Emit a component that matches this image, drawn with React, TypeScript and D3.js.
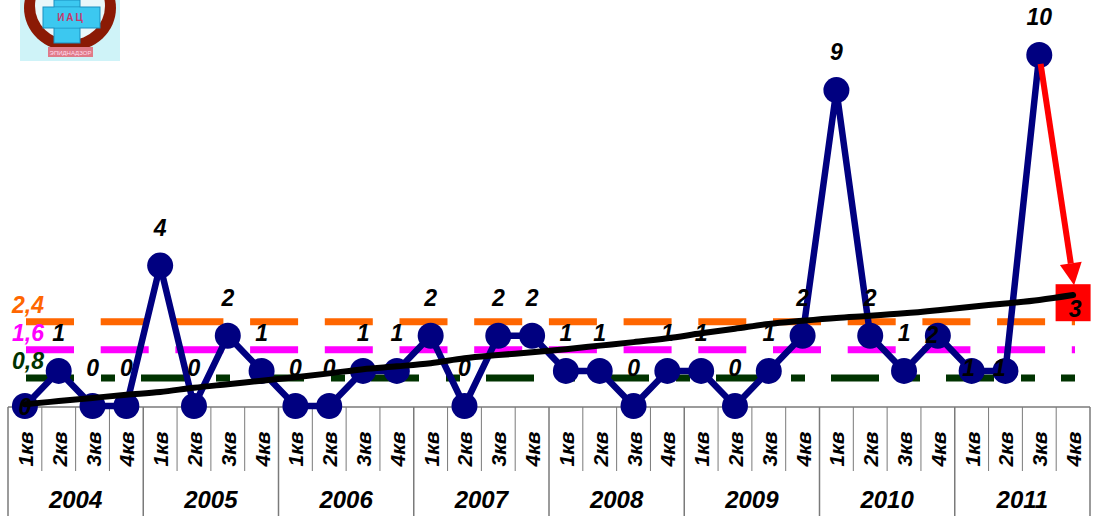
import React from "react";
import * as d3 from "d3";

const years = ["2004", "2005", "2006", "2007", "2008", "2009", "2010", "2011"];
const quarters = ["1кв", "2кв", "3кв", "4кв"];
const values = [0, 1, 0, 0, 4, 0, 2, 1, 0, 0, 1, 1, 2, 0, 2, 2, 1, 1, 0, 1, 1, 0, 1, 2, 9, 2, 1, 2, 1, 1, 10];
const forecast = 3;
const trend = [0.05, 0.14, 0.23, 0.32, 0.4, 0.52, 0.62, 0.72, 0.82, 0.93, 1.05, 1.13, 1.22, 1.36, 1.45, 1.53, 1.62, 1.72, 1.82, 1.93, 2.07, 2.2, 2.34, 2.43, 2.51, 2.57, 2.64, 2.73, 2.83, 2.92, 3.02, 3.16];
const thresholds = [
  { label: "2,4", value: 2.4, color: "#FF6600", dash: "48 26.7" },
  { label: "1,6", value: 1.6, color: "#FF00FF", dash: "48 26.7" },
  { label: "0,8", value: 0.8, color: "#003300", dash: "48 27 14 26" },
];

// label placement tweaks (index -> [dx, dy from point]) ; default above
const labelTweaks: Record<number, [number, number]> = {
  0: [0, 9],
  27: [-6, 7],
  28: [-3, 5],
  29: [-6, 5],
};

const W = 1096;
const H = 516;
const FONT = "'Liberation Sans', Arial, sans-serif";

export default function App() {
  const cats = d3.range(32);
  const x = d3.scaleBand<number>().domain(cats).range([8, 1090]).padding(0);
  const cx = (i: number) => (x(i) as number) + x.bandwidth() / 2;
  const y = d3.scaleLinear().domain([0, 10]).range([406, 55]);

  const linePath = d3.line<number>().x((_, i) => cx(i)).y((v) => y(v))(values) as string;
  const trendPath = d3
    .line<number>()
    .x((_, i) => cx(i))
    .y((v) => y(v))
    .curve(d3.curveMonotoneX)(trend) as string;

  const lastI = values.length - 1;
  const fx = cx(lastI + 1);
  const fy = y(forecast);
  const sqH = 37;
  const sqW = 35;
  const ax0 = cx(lastI);
  const ay0 = y(values[lastI]);
  const tipX = fx + 1;
  const tipY = fy - sqH / 2 + 3;
  const ang = Math.atan2(tipY - ay0, tipX - ax0);
  const headL = 22;
  const headW = 11;
  const baseX = tipX - headL * Math.cos(ang);
  const baseY = tipY - headL * Math.sin(ang);
  const px = -Math.sin(ang);
  const py = Math.cos(ang);
  const startX = ax0 + 9 * Math.cos(ang);
  const startY = ay0 + 9 * Math.sin(ang);

  const tableTop = 407;
  const qBottom = 471;
  const lineX0 = 26;
  const lineX1 = 1075;

  return (
    <svg
      width={W}
      height={H}
      style={{ position: "absolute", left: 0, top: 0, background: "#fff" }}
      fontFamily={FONT}
    >
      {/* logo */}
      <g>
        <rect x={20} y={0} width={100} height={61} fill="#cff3f8" />
        <ellipse cx={70} cy={8} rx={46} ry={43} fill="#8b1a05" />
        <ellipse cx={70} cy={6} rx={35} ry={34} fill="#e9f7fa" />
        <rect x={54} y={0} width={26} height={43} fill="#3cc8f0" stroke="#1a8fc0" strokeWidth={1} />
        <rect x={43} y={7} width={57} height={21} fill="#3cc8f0" stroke="#1a8fc0" strokeWidth={1} />
        <rect x={54.5} y={7.5} width={25} height={20} fill="#3cc8f0" />
        <text x={71} y={21} textAnchor="middle" fontSize={10} fontWeight="bold" fill="#c8386a" letterSpacing={2}>
          ИАЦ
        </text>
        <rect x={48} y={47} width={45} height={10} fill="#e07a88" />
        <text x={70.5} y={55} textAnchor="middle" fontSize={6} fill="#fde">
          ЭПИДНАДЗОР
        </text>
      </g>

      {/* threshold dashed lines */}
      {thresholds.map((t) => (
        <g key={t.label}>
          <line
            x1={lineX0}
            x2={lineX1}
            y1={y(t.value)}
            y2={y(t.value)}
            stroke={t.color}
            strokeWidth={7}
            strokeDasharray={t.dash}
          />
          <text
            x={12}
            y={y(t.value) - 9}
            fontSize={23}
            fontWeight="bold"
            fontStyle="italic"
            fill={t.color}
          >
            {t.label}
          </text>
        </g>
      ))}

      {/* table */}
      <g stroke="#7a7a7a">
        <line x1={8} x2={1090} y1={tableTop} y2={tableTop} strokeWidth={1.5} />
        {d3.range(33).map((k) => {
          const xx = 8 + x.bandwidth() * k;
          const full = k % 4 === 0;
          return (
            <line
              key={k}
              x1={xx}
              x2={xx}
              y1={tableTop}
              y2={full ? H : qBottom}
              strokeWidth={full ? 1.5 : 1}
            />
          );
        })}
      </g>
      {cats.map((i) => (
        <text
          key={"q" + i}
          transform={`translate(${cx(i) + 8},${449}) rotate(-90)`}
          textAnchor="middle"
          fontSize={21}
          fontWeight="bold"
          fontStyle="italic"
          fill="#000"
        >
          {quarters[i % 4]}
        </text>
      ))}
      {years.map((yr, j) => (
        <text
          key={yr}
          x={8 + x.bandwidth() * (j * 4 + 2)}
          y={508}
          textAnchor="middle"
          fontSize={24}
          fontWeight="bold"
          fontStyle="italic"
          fill="#000"
        >
          {yr}
        </text>
      ))}

      {/* series */}
      <path d={linePath} fill="none" stroke="#000080" strokeWidth={6.5} strokeLinejoin="round" />
      {values.map((v, i) => (
        <circle key={"c" + i} cx={cx(i)} cy={y(v)} r={13} fill="#000080" />
      ))}

      {/* forecast square */}
      <rect x={fx - sqW / 2} y={fy - sqH / 2 + 2} width={sqW} height={sqH} fill="#FF0000" />

      {/* red arrow */}
      <line x1={startX} y1={startY} x2={baseX} y2={baseY} stroke="#FF0000" strokeWidth={6} />
      <polygon
        points={`${tipX},${tipY} ${baseX + px * headW},${baseY + py * headW} ${baseX - px * headW},${baseY - py * headW}`}
        fill="#FF0000"
      />

      {/* trend */}
      <path d={trendPath} fill="none" stroke="#000" strokeWidth={6} strokeLinecap="round" />

      {/* labels */}
      {values.map((v, i) => {
        const t = labelTweaks[i];
        const lx = cx(i) + (t ? t[0] : 0);
        const ly = y(v) + (t ? t[1] : -30);
        return (
          <text
            key={"l" + i}
            x={lx}
            y={ly}
            textAnchor="middle"
            fontSize={23}
            fontWeight="bold"
            fontStyle="italic"
            fill="#000"
          >
            {v}
          </text>
        );
      })}
      <text
        x={fx + 2}
        y={fy + 16}
        textAnchor="middle"
        fontSize={23}
        fontWeight="bold"
        fontStyle="italic"
        fill="#000"
      >
        {forecast}
      </text>
    </svg>
  );
}
